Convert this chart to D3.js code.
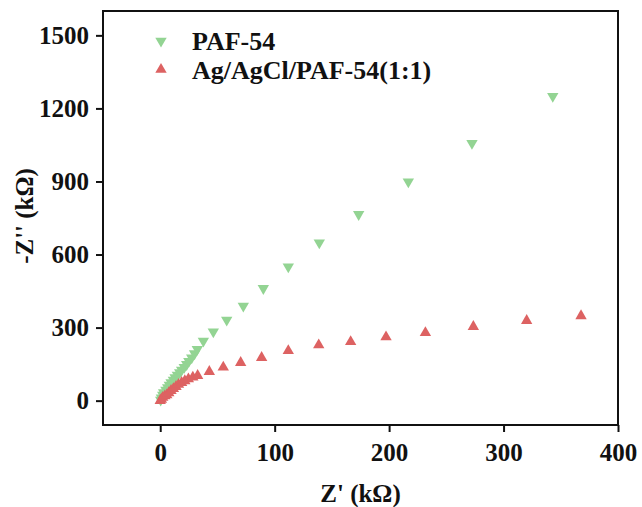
<!DOCTYPE html>
<html>
<head>
<meta charset="utf-8">
<script src="https://cdn.jsdelivr.net/npm/d3@7"></script>
<style>
  html, body { margin: 0; padding: 0; background: #ffffff; }
</style>
</head>
<body>
<script>
// Nyquist plot: Z' vs -Z'' (kΩ)
const seriesNames = ["PAF-54", "Ag/AgCl/PAF-54(1:1)"];
const seriesColors = ["#93d493", "#dd6262"];

const pafZre = [0.4, 1, 2.2, 3, 5, 6.5, 8, 9.5, 11.5, 13, 15, 17, 18.7, 21, 23.1, 25, 27.5, 30, 32.4, 37.7, 46.4, 58.1, 72.6, 90.1, 111.9, 139, 173.4, 216.8, 272.4, 343];
const pafZim = [3, 12, 23, 33, 44, 54, 64, 74, 85, 95, 105, 115, 126, 137, 149, 162, 176.5, 193, 211, 245, 283, 331, 388.6, 461, 550, 648.6, 765, 899, 1057, 1250];

const agZre = [0, 1, 2.2, 4, 5.7, 7.5, 9.4, 11.5, 13.8, 16, 18.7, 21.5, 24.6, 28.5, 32.7, 42.9, 55.1, 70.3, 88.6, 111.9, 138.5, 166.4, 197.3, 231.7, 273.6, 320.2, 367.7];
const agZim = [0, 5, 13, 19, 23, 32, 41, 49, 57.4, 66, 73.8, 81, 89, 96, 102.5, 119, 137, 156, 176.5, 205, 228.5, 242, 261, 279, 303.8, 328.4, 348];

const xTicks = [0, 100, 200, 300, 400];
const yTicks = [0, 300, 600, 900, 1200, 1500];

const FONT = "Liberation Serif";
const W = 642, H = 507;
const margin = { left: 103, right: 24, top: 11, bottom: 82 };

const svg = d3.select("body").append("svg")
  .attr("width", W).attr("height", H)
  .attr("font-family", FONT).attr("font-weight", "bold");

const x = d3.scaleLinear().domain([-50, 400]).range([margin.left, W - margin.right]);
const y = d3.scaleLinear().domain([-100, 1600]).range([H - margin.bottom, margin.top]);

// frame
svg.append("rect")
  .attr("x", x.range()[0]).attr("y", y.range()[1])
  .attr("width", x.range()[1] - x.range()[0])
  .attr("height", y.range()[0] - y.range()[1])
  .attr("fill", "none").attr("stroke", "#111").attr("stroke-width", 2);

const xAxis = svg.append("g")
  .attr("transform", `translate(0,${y.range()[0]})`)
  .call(d3.axisBottom(x).tickValues(xTicks).tickSize(7).tickPadding(11).tickFormat(d3.format("d")));
const yAxis = svg.append("g")
  .attr("transform", `translate(${x.range()[0]},0)`)
  .call(d3.axisLeft(y).tickValues(yTicks).tickSize(7).tickPadding(7).tickFormat(d3.format("d")));

[xAxis, yAxis].forEach(g => {
  g.attr("font-family", FONT).attr("font-size", 25).attr("font-weight", "bold");
  g.select(".domain").remove();
  g.selectAll(".tick line").attr("stroke", "#111").attr("stroke-width", 2);
  g.selectAll(".tick text").attr("fill", "#111");
});

// axis titles
svg.append("text")
  .attr("x", (x.range()[0] + x.range()[1]) / 2).attr("y", 502)
  .attr("text-anchor", "middle").attr("font-size", 25).attr("fill", "#111")
  .text("Z' (kΩ)");
svg.append("text")
  .attr("transform", `translate(33,216) rotate(-90)`)
  .attr("text-anchor", "middle").attr("font-size", 25).attr("fill", "#111")
  .text("-Z'' (kΩ)");

const tri = d3.symbol().type(d3.symbolTriangle).size(56);

const plot = svg.append("g");

// PAF-54: downward triangles
plot.selectAll(".paf").data(d3.zip(pafZre, pafZim)).join("path")
  .attr("class", "paf")
  .attr("d", tri)
  .attr("transform", d => `translate(${x(d[0])},${y(d[1])}) rotate(180)`)
  .attr("fill", seriesColors[0]);

// Ag/AgCl/PAF-54(1:1): upward triangles
plot.selectAll(".ag").data(d3.zip(agZre, agZim)).join("path")
  .attr("class", "ag")
  .attr("d", tri)
  .attr("transform", d => `translate(${x(d[0])},${y(d[1])})`)
  .attr("fill", seriesColors[1]);

// legend
const legend = svg.append("g");
seriesNames.forEach((name, i) => {
  const cy = 41 + i * 28.5;
  legend.append("path")
    .attr("d", tri)
    .attr("transform", `translate(161,${cy}) rotate(${i === 0 ? 180 : 0})`)
    .attr("fill", seriesColors[i]);
  legend.append("text")
    .attr("x", 192).attr("y", cy + 9)
    .attr("font-size", 26).attr("fill", "#111")
    .text(name);
});
</script>
</body>
</html>
